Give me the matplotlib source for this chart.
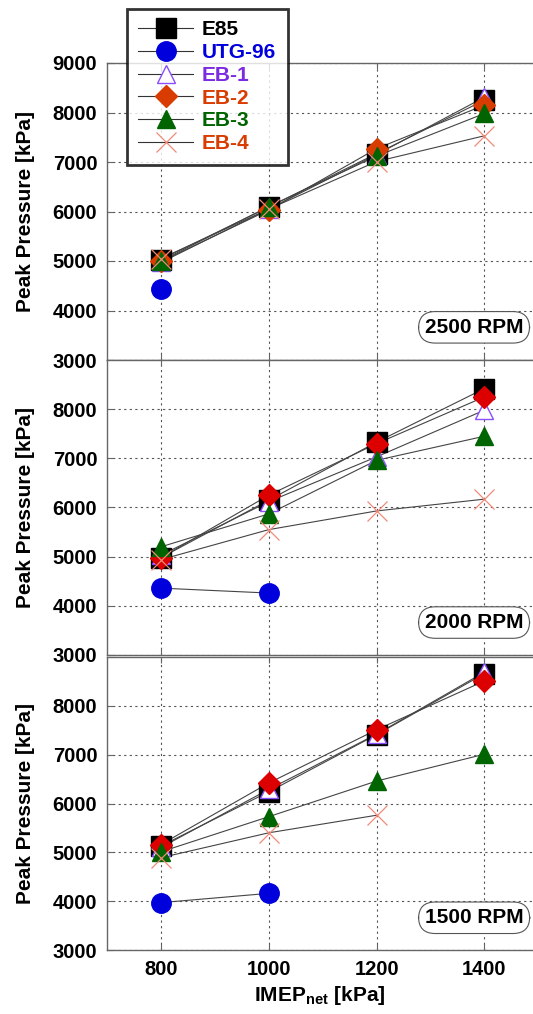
import matplotlib
matplotlib.use('Agg')
import matplotlib.pyplot as plt
from matplotlib.lines import Line2D

plt.rcParams['font.family'] = ['Liberation Sans', 'DejaVu Sans']
plt.rcParams['font.weight'] = 'bold'
plt.rcParams['mathtext.fontset'] = 'custom'
plt.rcParams['mathtext.bf'] = 'Liberation Sans:bold'
plt.rcParams['mathtext.rm'] = 'Liberation Sans:bold'

imep = [800, 1000, 1200, 1400]
fuels = ['E85', 'UTG-96', 'EB-1', 'EB-2', 'EB-3', 'EB-4']
rpm_labels = ['2500 RPM', '2000 RPM', '1500 RPM']

# peak pressure [kPa], one dict per engine speed
p2500 = {
    'E85':    [5030, 6090, 7170, 8250],
    'UTG-96': [4430],
    'EB-1':   [4970, 6050, 7150, 8310],
    'EB-2':   [4990, 6030, 7270, 8150],
    'EB-3':   [5000, 6100, 7120, 7980],
    'EB-4':   [5050, 6050, 7010, 7530],
}
p2000 = {
    'E85':    [4980, 6150, 7330, 8420],
    'UTG-96': [4360, 4260],
    'EB-1':   [5030, 6120, 7030, 7980],
    'EB-2':   [4980, 6250, 7300, 8250],
    'EB-3':   [5200, 5870, 6960, 7450],
    'EB-4':   [4940, 5550, 5930, 6170],
}
p1500 = {
    'E85':    [5130, 6240, 7410, 8660],
    'UTG-96': [3970, 4160],
    'EB-1':   [5100, 6290, 7420, 8690],
    'EB-2':   [5160, 6420, 7510, 8510],
    'EB-3':   [5010, 5730, 6460, 7010],
    'EB-4':   [4890, 5400, 5760],
}
panels = [p2500, p2000, p1500]

styles = {
    'E85':    dict(marker='s', mfc='black', mec='black', ms=14),
    'UTG-96': dict(marker='o', mfc='#0000dd', mec='#0000dd', ms=14),
    'EB-1':   dict(marker='^', mfc='white', mec='#8a4dff', ms=13, mew=1.0),
    'EB-2':   dict(marker='D', mfc='#d83c00', mec='#d83c00', ms=11),
    'EB-3':   dict(marker='^', mfc='#006400', mec='#006400', ms=13),
    'EB-4':   dict(marker='x', mfc='none', mec='#f08a78', ms=14, mew=0.9),
}
diamond_red = ['#d83c00', '#dd0000', '#dd0000']
text_colors = ['black', '#0000dd', '#7b2be0', '#d83c00', '#006400', '#d83c00']

fig = plt.figure(figsize=(5.33, 10.14), dpi=100)
H = 1014.0
left = 107 / 533.0
boxes = [(63, 360), (360, 655), (657, 950)]

for k, (top, bot) in enumerate(boxes):
    ax = fig.add_axes([left, 1 - bot / H, 1 - left, (bot - top) / H])
    data = panels[k]
    for f in fuels:
        y = data[f]
        st = dict(styles[f])
        if f == 'EB-2':
            st['mfc'] = diamond_red[k]
            st['mec'] = diamond_red[k]
        ax.plot(imep[:len(y)], y, ls='None', zorder=4, **st)
        ax.plot(imep[:len(y)], y, color='#444444', lw=0.8, zorder=3)
    ax.set_xlim(700, 1490)
    ax.set_ylim(3000, 9000)
    ax.set_xticks(imep)
    if k == 0:
        ax.set_yticks([3000, 4000, 5000, 6000, 7000, 8000, 9000])
    else:
        ax.set_yticks([3000, 4000, 5000, 6000, 7000, 8000])
    ax.grid(True, ls=(0, (2, 3)), color='#555555', lw=0.8)
    for s in ['left', 'top', 'bottom']:
        ax.spines[s].set_color('#666666')
        ax.spines[s].set_linewidth(1.0)
    ax.spines['right'].set_visible(False)
    ax.tick_params(direction='in', top=True, length=4, width=0.8,
                   labelsize=14.5, colors='#666666', labelcolor='black', pad=7)
    for t in ax.get_yticklabels() + ax.get_xticklabels():
        t.set_fontweight('bold')
    if k < 2:
        ax.tick_params(labelbottom=False)
    else:
        ax.set_xlabel('IMEP$_{\\mathbf{net}}$ [kPa]', fontsize=15, fontweight='bold', labelpad=4)
    ax.set_ylabel('Peak Pressure [kPa]', fontsize=15, fontweight='bold', labelpad=13)
    ax.text(0.746, 0.11, rpm_labels[k], transform=ax.transAxes, fontsize=15,
            fontweight='bold', ha='left', va='center',
            bbox=dict(boxstyle='round,pad=0.3,rounding_size=0.8', fc='white',
                      ec='#555555', lw=0.8))

leg_handles = []
for f in fuels:
    leg_handles.append(Line2D([0], [0], color='#333333', lw=0.8, **styles[f]))
leg = fig.legend(leg_handles, fuels, loc='upper left',
                 bbox_to_anchor=(127 / 533.0, 1 - 9 / H), frameon=True,
                 fancybox=False, edgecolor='black',
                 handlelength=2.6, labelspacing=0.18, borderpad=0.55,
                 handletextpad=0.45, borderaxespad=0,
                 prop={'weight': 'bold', 'size': 15})
leg.get_frame().set_linewidth(2.0)
for t, c in zip(leg.get_texts(), text_colors):
    t.set_color(c)

fig.savefig('out.png', dpi=100)
